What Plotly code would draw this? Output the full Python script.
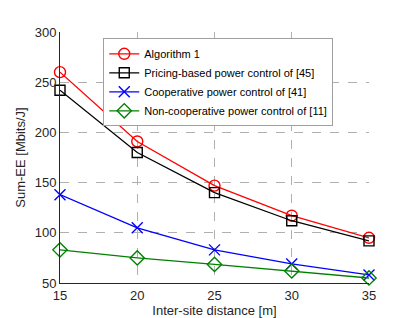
import plotly.graph_objects as go

distance = [15, 20, 25, 30, 35]
alg1 = [260, 191, 147, 117, 95]
pricing = [242, 180, 140, 112, 92]
coop = [138, 105, 83, 69, 58]
noncoop = [83, 75, 68.5, 62, 55]

names = ["Algorithm 1", "Pricing-based power control of [45]",
         "Cooperative power control of [41]", "Non-cooperative power control of [11]"]
series = [alg1, pricing, coop, noncoop]
colors = ["#ff0000", "#000000", "#0000ff", "#008000"]
symbols = ["circle-open", "square-open", "x-thin-open", "diamond-open"]
sizes = [11, 10, 11, 11]

fig = go.Figure()
for n, s, c, sym, sz in zip(names, series, colors, symbols, sizes):
    fig.add_trace(go.Scatter(x=distance, y=s, name=n, mode="lines+markers",
                             line=dict(color=c, width=1.3),
                             marker=dict(symbol=sym, size=sz, color=c,
                                         line=dict(color=c, width=1.4)),
                             cliponaxis=False))

axis_common = dict(showgrid=True, gridcolor="#b0b0b0", griddash="dash", gridwidth=1,
                   zeroline=False, ticks="", showline=True, linecolor="#262626",
                   linewidth=1, tickfont=dict(size=13, color="#262626"),
                   title_font=dict(size=13, color="#262626"))
fig.update_xaxes(range=[15, 35], tickvals=distance, title_text="Inter-site distance [m]",
                 title_standoff=2, **axis_common)
fig.update_yaxes(range=[50, 300], tickvals=[50, 100, 150, 200, 250, 300],
                 title_text="Sum-EE [Mbits/J]", title_standoff=6, **axis_common)

fig.update_layout(
    width=399, height=318,
    margin=dict(l=52, r=38, t=24, b=36),
    paper_bgcolor="white", plot_bgcolor="white",
    font=dict(family="Liberation Sans, Arial, sans-serif", color="#262626"),
    showlegend=True,
    legend=dict(x=0.14, y=0.975, xanchor="left", yanchor="top",
                bgcolor="white", bordercolor="#a0a0a0", borderwidth=1,
                font=dict(size=11, color="#000000"), tracegroupgap=0,
                itemwidth=30),
)
fig.write_html("out.html")
